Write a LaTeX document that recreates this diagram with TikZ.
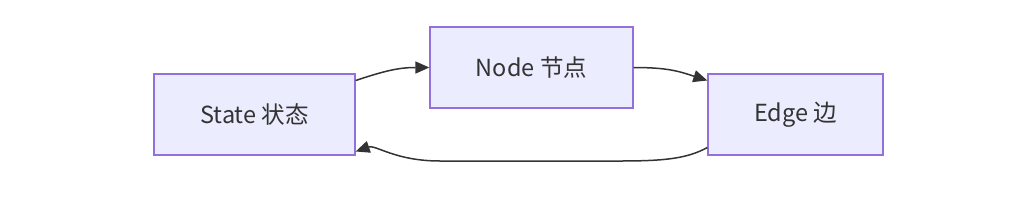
\documentclass[tikz,border=0pt]{standalone}
\usepackage{fontspec}
\setmainfont{Noto Sans CJK SC}
\usetikzlibrary{arrows.meta,calc}
\definecolor{nodefill}{HTML}{ECECFF}
\definecolor{nodeborder}{HTML}{9370DB}
\definecolor{ink}{HTML}{333333}
\tikzset{
  box/.style={draw=nodeborder, fill=nodefill, line width=1.3pt, inner sep=0pt,
    text=ink, font=\fontsize{23.5}{28}\selectfont},
  link/.style={draw=ink, line width=1.5pt, -{Triangle[length=14pt,width=12pt]}},
}
\begin{document}
\begin{tikzpicture}[x=1pt,y=-1pt]
\useasboundingbox (0,0) rectangle (1017,207);
\node[box, minimum width=201pt, minimum height=81pt] (state) at (254.5,114.5) {State 状态};
\node[box, minimum width=203pt, minimum height=81pt] (node) at (531.5,67.5) {Node 节点};
\node[box, minimum width=175pt, minimum height=81pt] (edge) at (795.5,114.5) {Edge 边};
\draw[link] ([yshift=34pt]state.east) .. controls +(30,-10) and +(-30,0) .. (node.west);
\draw[link] (node.east) .. controls +(35,0) and +(-28,-9) .. ([yshift=34pt]edge.west);
\draw[link] ([yshift=-33pt]edge.west) .. controls +(-20,11) and +(45,0) .. (620,161) coordinate (m1)
  -- (440,161) .. controls +(-45,0) and +(20,-7) .. ([yshift=-37pt]state.east);
\end{tikzpicture}
\end{document}
